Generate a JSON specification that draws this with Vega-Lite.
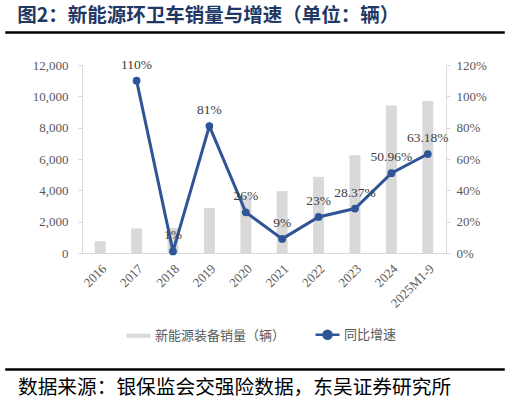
{
  "$schema": "https://vega.github.io/schema/vega-lite/v6.json",
  "padding": {"left": 5, "right": 5, "top": 6, "bottom": 2},
  "background": "white",
  "spacing": 18,
  "resolve": {"scale": {"color": "independent"}, "legend": {"color": "independent"}},
  "title": {
    "text": "图2：新能源环卫车销量与增速（单位：辆）",
    "anchor": "start",
    "frame": "bounds",
    "font": "Noto Sans CJK SC",
    "fontSize": 19.5,
    "fontWeight": "bold",
    "color": "#1F3864",
    "dx": 12,
    "offset": -1
  },
  "datasets": {
    "main": [
      {"year": "2016", "sales": 750, "yoy": null, "label": "", "s1": "新能源装备销量（辆）", "s2": "同比增速"},
      {"year": "2017", "sales": 1570, "yoy": 1.10, "label": "110%", "s1": "新能源装备销量（辆）", "s2": "同比增速"},
      {"year": "2018", "sales": 1590, "yoy": 0.01, "label": "1%", "s1": "新能源装备销量（辆）", "s2": "同比增速"},
      {"year": "2019", "sales": 2880, "yoy": 0.81, "label": "81%", "s1": "新能源装备销量（辆）", "s2": "同比增速"},
      {"year": "2020", "sales": 3630, "yoy": 0.26, "label": "26%", "s1": "新能源装备销量（辆）", "s2": "同比增速"},
      {"year": "2021", "sales": 3950, "yoy": 0.09, "label": "9%", "s1": "新能源装备销量（辆）", "s2": "同比增速"},
      {"year": "2022", "sales": 4860, "yoy": 0.23, "label": "23%", "s1": "新能源装备销量（辆）", "s2": "同比增速"},
      {"year": "2023", "sales": 6240, "yoy": 0.2837, "label": "28.37%", "s1": "新能源装备销量（辆）", "s2": "同比增速"},
      {"year": "2024", "sales": 9420, "yoy": 0.5096, "label": "50.96%", "s1": "新能源装备销量（辆）", "s2": "同比增速"},
      {"year": "2025M1-9", "sales": 9710, "yoy": 0.6318, "label": "63.18%", "s1": "新能源装备销量（辆）", "s2": "同比增速"}
    ],
    "blank": [{"k": 0}]
  },
  "vconcat": [
    {
      "width": 498,
      "height": 1,
      "data": {"name": "blank"},
      "view": {"stroke": "#000000", "strokeWidth": 1.5, "fill": "#000000"},
      "mark": {"type": "text"},
      "encoding": {"text": {"value": ""}}
    },
    {
      "spacing": 25,
      "resolve": {"scale": {"color": "independent"}, "legend": {"color": "independent"}},
      "hconcat": [
        {
          "width": 1,
          "height": 1,
          "data": {"name": "blank"},
          "view": {"stroke": null},
          "mark": {"type": "text"},
          "encoding": {"text": {"value": ""}}
        },
        {
          "width": 364,
          "height": 188,
          "data": {"name": "main"},
          "view": {"stroke": null},
          "encoding": {
            "x": {
              "field": "year",
              "type": "nominal",
              "sort": null,
              "scale": {"paddingInner": 0.7, "paddingOuter": 0.35},
              "axis": {
                "title": null,
                "labelAngle": -45,
                "labelFont": "Liberation Serif",
                "labelFontSize": 13,
                "labelColor": "#595959",
                "ticks": false,
                "labelPadding": 9,
                "domainColor": "#D9D9D9",
                "grid": false
              }
            }
          },
          "layer": [
            {
              "mark": {"type": "bar"},
              "encoding": {
                "y": {
                  "field": "sales",
                  "type": "quantitative",
                  "scale": {"domain": [0, 12000]},
                  "axis": {
                    "title": null,
                    "values": [0, 2000, 4000, 6000, 8000, 10000, 12000],
                    "format": ",.0f",
                    "labelOverlap": false,
                    "labelFont": "Liberation Serif",
                    "labelFontSize": 13,
                    "labelColor": "#595959",
                    "tickColor": "#D9D9D9",
                    "tickSize": 4,
                    "labelPadding": 10,
                    "domainColor": "#D9D9D9",
                    "grid": false
                  }
                },
                "color": {
                  "field": "s1",
                  "type": "nominal",
                  "scale": {
                    "domain": ["新能源装备销量（辆）", "同比增速"],
                    "range": ["#D9D9D9", "#2F5597"]
                  },
                  "legend": {
                    "title": null,
                    "orient": "bottom",
                    "direction": "horizontal",
                    "offset": 17,
                    "padding": 0,
                    "labelFont": "Noto Sans CJK SC",
                    "labelFontSize": 13,
                    "labelColor": "#595959",
                    "symbolSize": 144,
                    "labelOffset": 10,
                    "columnPadding": 24,
                    "encode": {
                      "symbols": {
                        "update": {
                          "shape": {"signal": "datum.value === '同比增速' ? 'M-2,0H2M0.67,0A0.67,0.67 0 1,1 -0.67,0A0.67,0.67 0 1,1 0.67,0Z' : 'M-2,-0.34H2V0.34H-2Z'"},
                          "fill": {"signal": "datum.value === '同比增速' ? '#2F5597' : '#D9D9D9'"},
                          "stroke": {"signal": "datum.value === '同比增速' ? '#2F5597' : '#D9D9D9'"},
                          "strokeWidth": {"signal": "datum.value === '同比增速' ? 2.5 : 0"},
                          "opacity": {"value": 1},
                          "fillOpacity": {"value": 1},
                          "strokeOpacity": {"value": 1}
                        }
                      }
                    }
                  }
                }
              }
            },
            {
              "encoding": {
                "y": {
                  "field": "yoy",
                  "type": "quantitative",
                  "scale": {"domain": [0, 1.2]},
                  "axis": {
                    "title": null,
                    "orient": "right",
                    "values": [0, 0.2, 0.4, 0.6, 0.8, 1.0, 1.2],
                    "format": ".0%",
                    "labelOverlap": false,
                    "labelFont": "Liberation Serif",
                    "labelFontSize": 13,
                    "labelColor": "#595959",
                    "tickColor": "#D9D9D9",
                    "tickSize": 4,
                    "labelPadding": 6,
                    "domainColor": "#D9D9D9",
                    "grid": false
                  }
                }
              },
              "layer": [
                {
                  "mark": {"type": "line", "strokeWidth": 3},
                  "encoding": {"color": {"field": "s2", "type": "nominal"}}
                },
                {
                  "mark": {"type": "point", "filled": true, "size": 60, "opacity": 1},
                  "encoding": {"color": {"field": "s2", "type": "nominal"}}
                },
                {
                  "mark": {"type": "text", "dy": -16, "font": "Liberation Serif", "fontSize": 13.5, "color": "#404040", "baseline": "middle"},
                  "encoding": {"text": {"field": "label"}}
                }
              ]
            }
          ],
          "resolve": {"scale": {"y": "independent"}}
        }
      ]
    },
    {
      "width": 498,
      "height": 1,
      "data": {"name": "blank"},
      "view": {"stroke": "#000000", "strokeWidth": 1.5, "fill": "#000000"},
      "mark": {"type": "text"},
      "encoding": {"text": {"value": ""}},
      "title": {
        "text": "数据来源：银保监会交强险数据，东吴证券研究所",
        "orient": "bottom",
        "anchor": "start",
        "frame": "bounds",
        "font": "Noto Sans CJK SC",
        "fontSize": 19.7,
        "fontWeight": "normal",
        "color": "#000000",
        "dx": 12,
        "offset": 3
      }
    }
  ],
  "config": {
    "legend": {"layout": {"bottom": {"anchor": "middle"}}}
  }
}
